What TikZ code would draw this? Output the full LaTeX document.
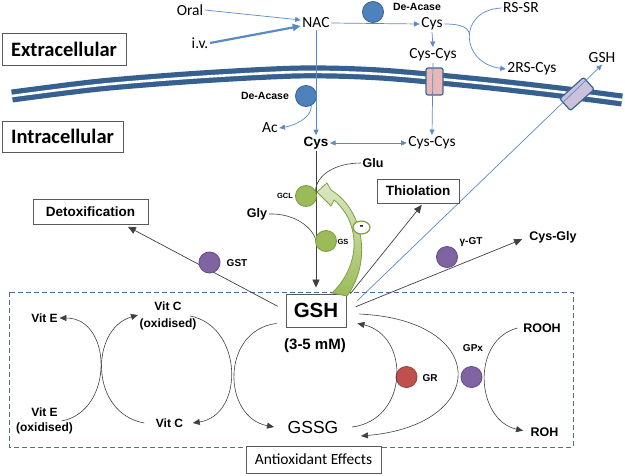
\documentclass[tikz,border=0pt]{standalone}
\usepackage{fontspec}
\setmainfont{Carlito}
\newfontfamily\arialfont{Liberation Sans}
\usetikzlibrary{arrows.meta,shapes.geometric}

\definecolor{arrowblue}{HTML}{5A8AC6}
\definecolor{membraneblue}{HTML}{35608F}
\definecolor{enzblue}{HTML}{4F81BD}
\definecolor{enzblueline}{HTML}{3A6597}
\definecolor{pinkT}{HTML}{E6B9B8}
\definecolor{lavT}{HTML}{CCC1DA}
\definecolor{greenfill}{HTML}{9BBB59}
\definecolor{greenline}{HTML}{7F9F45}
\definecolor{greenlight}{HTML}{DCE8C4}
\definecolor{purplefill}{HTML}{8064A2}
\definecolor{purpleline}{HTML}{654F86}
\definecolor{redfill}{HTML}{C0504D}
\definecolor{redline}{HTML}{A23F3C}
\definecolor{dashblue}{HTML}{4A6EA0}
\definecolor{boxgray}{HTML}{595959}
\definecolor{linegray}{HTML}{404040}

\tikzset{
  txt/.style={font=\fontsize{15.5}{17}\selectfont, inner sep=1.5pt},
  arb/.style={font=\arialfont\bfseries\fontsize{#1}{#1}\selectfont, inner sep=1.5pt},
  box/.style={draw=boxgray, line width=0.8pt, fill=white, inner sep=0pt},
  region/.style={box, font=\bfseries\fontsize{20.5}{24}\selectfont},
  enzyme/.style={circle, minimum size=21pt, inner sep=0pt, line width=0.9pt},
  bluearr/.style={draw=arrowblue, line width=0.7pt, -{Triangle[length=5.5pt,width=5pt]}},
  blackarr/.style={draw=linegray, line width=0.7pt, -{Triangle[length=8pt,width=7pt]}},
  cyclearr/.style={draw=linegray, line width=0.6pt, -{Triangle[length=7pt,width=6pt]}},
  thinline/.style={draw=linegray, line width=0.6pt},
  transporter/.style={draw=enzblueline, rounded corners=2pt, line width=1.2pt, inner sep=0pt}
}

\begin{document}
\begin{tikzpicture}[x=1pt,y=-1pt]
\useasboundingbox (0,0) rectangle (625,475);

% membrane
\draw[membraneblue, line width=13pt] plot[smooth] coordinates{(12,96)(100,85)(200,77)(300,72)(380,74)(480,83)(560,92)(622,100)};
\draw[white, line width=2.6pt] plot[smooth] coordinates{(12,96)(100,85)(200,77)(300,72)(380,74)(480,83)(560,92)(622,100)};
\node[transporter, fill=pinkT, minimum width=17pt, minimum height=27pt] (cystrans) at (434.5,81.5) {};
\node[transporter, fill=lavT, minimum width=32pt, minimum height=16pt, rotate=42] (gshtrans) at (577,94) {};

\node[region, minimum width=124pt, minimum height=32pt] (extra) at (64,49) {Extracellular};
\node[region, minimum width=121pt, minimum height=31pt] (intra) at (62.5,136.5) {Intracellular};

% uptake of NAC
\node[txt] (oral) at (190,10) {Oral};
\node[txt] (iv) at (200,43) {i.v.};
\node[txt] (nac) at (316,23) {NAC};
\node[txt] (cysout) at (432,24) {Cys};
\node[txt] (cyscysout) at (433,55) {Cys-Cys};
\node[txt] (rssr) at (521,8) {RS-SR};
\node[txt] (rscys) at (532,69) {2RS-Cys};
\node[txt] (gshout) at (602,58) {GSH};
\node[txt] (ac) at (270,128) {Ac};
\node[txt] (cyscysin) at (432,143) {Cys-Cys};
\node[arb=13.5] (cysin) at (316,143) {Cys};
\node[enzyme, fill=enzblue, draw=enzblueline] (deacout) at (373,12) {};
\node[arb=10.5] (deacoutlbl) at (417,7) {De-Acase};
\node[enzyme, fill=enzblue, draw=enzblueline] (deacin) at (306,96) {};
\node[arb=10.5] (deacinlbl) at (265,96) {De-Acase};
\coordinate (merge) at (469.5,34);

\draw[bluearr] (oral.east) -- ([yshift=3pt]nac.west);
\draw[bluearr, line width=2.2pt, -{Triangle[length=8pt,width=7pt]}] (iv.east) -- ([yshift=-3pt]nac.west);
\draw[bluearr] (nac.east) -- (cysout.west);
\draw[bluearr] (cysout.south) -- (cyscysout.north);
\draw[bluearr] (cyscysout.south) -- (cyscysin.north);
\draw[bluearr] (rssr.west) .. controls +(-44,2) and +(-46,-6) .. (rscys.west);
\draw[draw=arrowblue, line width=0.7pt] (cysout.east) .. controls +(14,0) and +(-2,-8) .. (merge);
\draw[bluearr] (nac.south) -- (cysin.north);
\draw[bluearr] (deacin.-60) .. controls +(0,14) and +(12,-2) .. (ac.east);
\draw[bluearr, {Triangle[length=5.5pt,width=5pt]}-{Triangle[length=5.5pt,width=5pt]}] (cysin.east) -- (cyscysin.west);

% synthesis of GSH
\draw[dashblue, line width=1pt, dash pattern=on 5pt off 3pt] (9,292) rectangle (573,447);
\node[box, minimum width=60pt, minimum height=33pt, font=\arialfont\bfseries\fontsize{20.5}{22}\selectfont] (gsh) at (316,310.5) {GSH};
\node[arb=15] (conc) at (315,346) {(3-5 mM)};
\draw[bluearr] ([xshift=11pt,yshift=-7pt]gsh.north east) -- (gshout.south);
\draw[blackarr, shorten >=6pt] (cysin.south) -- (gsh.north);
\node[arb=12.5] (glu) at (373,163) {Glu};
\node[arb=12.5] (gly) at (257,214) {Gly};
\draw[thinline] (glu.west) .. controls +(-25,0) and +(0,-18) .. (315.4,192.6);
\draw[thinline] (gly.east) .. controls +(25,-1) and +(-3,-14) .. (316,241);
\node[enzyme, fill=greenfill, draw=greenline] (gcl) at (306,196) {};
\node[arb=7.5] (gcllbl) at (285,196) {GCL};
\node[enzyme, fill=greenfill, draw=greenline] (gs) at (326,241) {};
\node[arb=7.5] (gslbl) at (343,242) {GS};
\draw[draw=greenline, line width=0.8pt, top color=greenlight, bottom color=greenfill]
  (332,293) .. controls (356,270) and (360,238) .. (346,214)
  .. controls (342,208) and (338,203) .. (334,200) -- (331,206) -- (317,192)
  -- (327,183) -- (331,190) .. controls (364,210) and (372,262) .. (347,296) -- cycle;
\node[ellipse, draw=greenline, line width=1.2pt, fill=white, minimum width=17pt, minimum height=13pt, inner sep=0pt, font=\arialfont\bfseries\fontsize{12}{12}\selectfont] (minus) at (361.5,227.5) {-};

% fates of GSH
\node[box, minimum width=82pt, minimum height=24pt, font=\arialfont\bfseries\fontsize{13.5}{14}\selectfont] (thiol) at (418,191) {Thiolation};
\node[box, minimum width=115pt, minimum height=25pt, font=\arialfont\bfseries\fontsize{13.5}{14}\selectfont] (detox) at (90.5,211.5) {Detoxification};
\node[arb=12.5] (cysgly) at (553,237) {Cys-Gly};
\draw[blackarr, shorten >=2pt] ([xshift=4pt]gsh.north east) -- ([xshift=5pt]thiol.south);
\draw[blackarr, shorten <=9pt, shorten >=5pt] (gsh.west) -- ([xshift=33pt]detox.south);
\draw[blackarr, shorten <=10pt, shorten >=6pt] (gsh.east) -- (cysgly.west);
\node[enzyme, fill=purplefill, draw=purpleline] (gst) at (209.5,262.5) {};
\node[arb=10] (gstlbl) at (237,263) {GST};
\node[enzyme, fill=purplefill, draw=purpleline] (ggt) at (447,257) {};
\node[arb=10] (ggtlbl) at (471,242) {γ-GT};

% antioxidant cycles
\node[arb=12] (vite) at (44.5,318) {Vit E};
\node[arb=12, align=center, font=\arialfont\bfseries\fontsize{12}{15}\selectfont] (viteox) at (44.5,421) {Vit E\\(oxidised)};
\node[arb=12, align=center, font=\arialfont\bfseries\fontsize{12}{17}\selectfont] (vitcox) at (168,316) {Vit C\\(oxidised)};
\node[arb=12] (vitc) at (169.5,423) {Vit C};
\node[font=\arialfont\fontsize{17.5}{18}\selectfont, inner sep=1.5pt] (gssg) at (313,427) {GSSG};
\node[arb=12.5] (rooh) at (542,328) {ROOH};
\node[arb=12.5] (roh) at (544.5,432) {ROH};
\draw[cyclearr] ([xshift=-13pt]viteox.east) .. controls +(53,-10) and +(53,0) .. (vite.east);
\draw[cyclearr] ([xshift=-10pt]vitc.west) .. controls +(-55,-10) and +(-48,14) .. ([yshift=1pt]vitcox.west);
\draw[cyclearr] ([xshift=-8pt]vitcox.east) .. controls +(53,10) and +(52,-8) .. ([xshift=8pt]vitc.east);
\draw[cyclearr] ([xshift=-9pt,yshift=4pt]gsh.south west) .. controls +(-56,7) and +(-52,-10) .. ([xshift=-12pt]gssg.west);
\node[enzyme, fill=redfill, draw=redline] (gr) at (406.5,377) {};
\node[arb=10] (grlbl) at (430,378) {GR};
\draw[cyclearr] ([xshift=12pt]gssg.east) .. controls +(57,-7) and +(53,12) .. ([xshift=11pt,yshift=4pt]gsh.south east);
\draw[cyclearr] ([xshift=13pt,yshift=-3.5pt]gsh.east) .. controls +(131,6) and +(128,-11) .. ([xshift=21pt,yshift=-9pt]gssg.east);
\node[enzyme, fill=purplefill, draw=purpleline] (gpx) at (471.5,377) {};
\node[arb=10] (gpxlbl) at (473,348) {GPx};
\draw[cyclearr, shorten >=6pt] ([xshift=-4pt]rooh.west) .. controls +(-47,12) and +(-53,-12) .. (roh.west);
\node[box, minimum width=135pt, minimum height=27pt, font=\fontsize{15.5}{17}\selectfont] (antiox) at (313.5,459.5) {Antioxidant Effects};
\end{tikzpicture}
\end{document}
